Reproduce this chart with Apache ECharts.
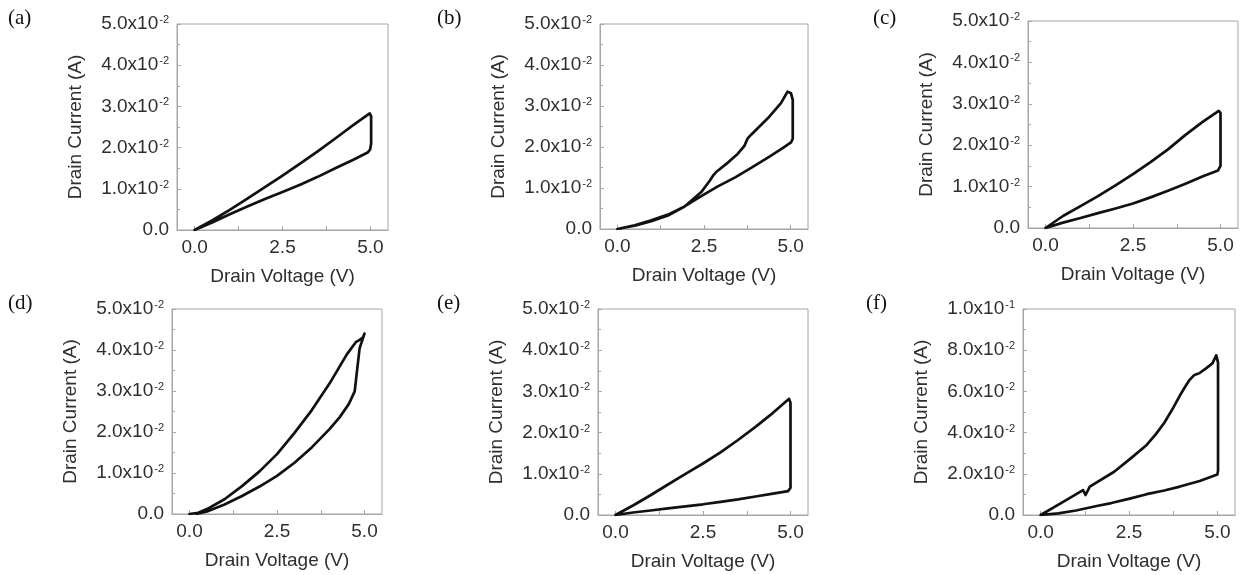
<!DOCTYPE html>
<html>
<head>
<meta charset="utf-8">
<script src="https://cdn.jsdelivr.net/npm/echarts@6/dist/echarts.min.js"></script>
<style>
html,body{margin:0;padding:0;background:#fff;}
#chart{width:1241px;height:575px;}
</style>
</head>
<body>
<div id="chart"></div>
<script>
// ---- data (Drain Voltage V, Drain Current A), traced along each hysteresis loop ----
const panelLabels = ['(a)', '(b)', '(c)', '(d)', '(e)', '(f)'];
const xTickLabels = [0, 2.5, 5];
const xTicks = [0, 1.25, 2.5, 3.75, 5];
const yMaxes = [0.05, 0.05, 0.05, 0.05, 0.05, 0.1];
const ySteps = [0.01, 0.01, 0.01, 0.01, 0.01, 0.02];

const aV = [0, 0.5, 1.0, 1.5, 2.0, 2.5, 3.0, 3.5, 4.0, 4.5, 4.92, 4.99, 5.02, 5.02, 4.98, 4.5, 4.0, 3.5, 3.0, 2.5, 2.0, 1.5, 1.0, 0.5, 0];
const aI = [0, 0.0018, 0.0038, 0.0057, 0.0075, 0.0092, 0.0110, 0.0129, 0.0150, 0.0170, 0.0188, 0.0195, 0.0210, 0.0276, 0.0283, 0.0254, 0.0222, 0.0191, 0.0161, 0.0132, 0.0104, 0.0076, 0.0049, 0.0023, 0];

const bV = [0, 0.5, 0.98, 1.46, 1.94, 2.42, 2.9, 3.4, 3.86, 4.4, 4.8, 5.01, 5.06, 5.06, 5.01, 4.91, 4.72, 4.34, 3.86, 3.76, 3.66, 3.47, 3.19, 2.85, 2.76, 2.66, 2.42, 1.94, 1.46, 0.98, 0.5, 0];
const bI = [0, 0.0009, 0.0021, 0.0035, 0.0055, 0.0080, 0.0104, 0.0126, 0.0149, 0.0177, 0.0199, 0.0211, 0.0220, 0.0315, 0.0331, 0.0335, 0.0307, 0.0270, 0.0230, 0.0221, 0.0202, 0.0183, 0.0162, 0.0139, 0.0130, 0.0117, 0.0090, 0.0055, 0.0033, 0.0019, 0.0008, 0];

const cV = [0, 0.5, 1.0, 1.5, 2.0, 2.5, 3.0, 3.5, 4.0, 4.5, 4.93, 5.0, 5.0, 4.95, 4.5, 4.0, 3.5, 3.0, 2.5, 2.0, 1.5, 1.0, 0.5, 0];
const cI = [0, 0.0013, 0.0024, 0.0036, 0.0047, 0.0059, 0.0074, 0.0090, 0.0107, 0.0125, 0.0139, 0.0150, 0.0278, 0.0283, 0.0257, 0.0225, 0.0190, 0.0159, 0.0130, 0.0103, 0.0077, 0.0053, 0.0029, 0];

const dV = [0.2, 0.5, 1.0, 1.5, 2.0, 2.5, 3.0, 3.5, 4.0, 4.3, 4.55, 4.72, 4.79, 4.86, 5.0, 4.95, 4.85, 4.75, 4.5, 4.0, 3.5, 3.0, 2.5, 2.0, 1.5, 1.0, 0.5, 0.25, 0];
const dI = [0, 0.0006, 0.0023, 0.0044, 0.0067, 0.0093, 0.0125, 0.0163, 0.0207, 0.0237, 0.0268, 0.0299, 0.0352, 0.0404, 0.0440, 0.0430, 0.0424, 0.0419, 0.0390, 0.0318, 0.0254, 0.0198, 0.0146, 0.0104, 0.0068, 0.0036, 0.0012, 0.0003, 0];

const eV = [0, 0.5, 1.0, 1.5, 2.0, 2.5, 3.0, 3.5, 4.0, 4.5, 4.93, 5.0, 5.0, 4.96, 4.5, 4.0, 3.5, 3.0, 2.5, 2.0, 1.5, 1.0, 0.5, 0];
const eI = [0, 0.0006, 0.0011, 0.0016, 0.0021, 0.0026, 0.0032, 0.0038, 0.0045, 0.0052, 0.0058, 0.0066, 0.0272, 0.0282, 0.0248, 0.0214, 0.0182, 0.0152, 0.0125, 0.0100, 0.0074, 0.0048, 0.0023, 0];

const fV = [0, 0.5, 1.0, 1.62, 2.0, 2.55, 3.0, 3.5, 3.94, 4.5, 5.0, 5.02, 5.02, 4.97, 4.86, 4.68, 4.49, 4.35, 4.21, 4.08, 3.94, 3.75, 3.5, 3.25, 3.0, 2.55, 2.08, 1.39, 1.27, 1.2, 0.6, 0];
const fI = [0, 0.0008, 0.0022, 0.0045, 0.0058, 0.0081, 0.0101, 0.0119, 0.0138, 0.0165, 0.0197, 0.0215, 0.0740, 0.0775, 0.0736, 0.0712, 0.0688, 0.0680, 0.0655, 0.0620, 0.0580, 0.0520, 0.0448, 0.0390, 0.0340, 0.0275, 0.0210, 0.0138, 0.0097, 0.0121, 0.0060, 0];

const loopsV = [aV, bV, cV, dV, eV, fV];
const loopsI = [aI, bI, cI, dI, eI, fI];

// ---- layout ----
const grids = [
  {left: 177, top: 24, width: 211, height: 206},
  {left: 600, top: 24, width: 208, height: 205},
  {left: 1028, top: 21, width: 210, height: 207},
  {left: 172, top: 309, width: 210, height: 205},
  {left: 598, top: 309, width: 210, height: 206},
  {left: 1023, top: 309, width: 212, height: 206}
];
const labelPos = [[8, 8], [437, 8], [873, 8], [8, 293], [437, 293], [866, 293]];

const FONT = '"Liberation Sans", Arial, sans-serif';
const TXT = '#2e2e2e';
const AX = '#a6a6a6';

function yFmt(v) {
  if (Math.abs(v) < 1e-12) return '0.0';
  const e = Math.floor(Math.log10(v) + 1e-9);
  const m = v / Math.pow(10, e);
  return '{m|' + m.toFixed(1) + 'x10}{e|' + e + '}';
}

const option = {
  animation: false,
  backgroundColor: '#fff',
  grid: grids.map(g => Object.assign({show: true, borderColor: AX, borderWidth: 1, containLabel: false}, g)),
  xAxis: grids.map((g, i) => ({
    type: 'value', gridIndex: i, min: -0.5, max: 5.5,
    name: 'Drain Voltage (V)', nameLocation: 'middle', nameGap: 37,
    nameTextStyle: {fontFamily: FONT, fontSize: 19, color: TXT},
    axisLine: {show: true, onZero: false, lineStyle: {color: AX, width: 1}},
    axisTick: {show: true, inside: true, length: 4, customValues: xTicks, lineStyle: {color: AX}},
    axisLabel: {show: true, customValues: xTickLabels, margin: 8, fontFamily: FONT, fontSize: 19, color: TXT,
      formatter: v => Number(v).toFixed(1)},
    splitLine: {show: false}
  })),
  yAxis: grids.map((g, i) => ({
    type: 'value', gridIndex: i, min: 0, max: yMaxes[i], interval: ySteps[i],
    name: 'Drain Current (A)', nameLocation: 'middle', nameGap: 92, nameRotate: 90,
    nameTextStyle: {fontFamily: FONT, fontSize: 19, color: TXT},
    axisLine: {show: true, onZero: false, lineStyle: {color: AX, width: 1}},
    axisTick: {show: true, inside: true, length: 4, lineStyle: {color: AX}},
    minorTick: {show: true, splitNumber: 2, length: 3, lineStyle: {color: AX}},
    axisLabel: {show: true, margin: 8, fontFamily: FONT, fontSize: 19, color: TXT,
      formatter: yFmt,
      rich: {
        m: {fontFamily: FONT, fontSize: 19, color: TXT},
        e: {fontFamily: FONT, fontSize: 11, color: TXT, verticalAlign: 'top', padding: [0, 0, 0, 1]}
      }},
    splitLine: {show: false}
  })),
  series: loopsV.map((vs, i) => ({
    type: 'line', xAxisIndex: i, yAxisIndex: i,
    data: vs.map((v, k) => [v, loopsI[i][k]]),
    showSymbol: false, symbol: 'none', smooth: false,
    lineStyle: {color: '#111', width: 2.7, join: 'round', cap: 'round'},
    silent: true
  })),
  graphic: panelLabels.map((t, i) => ({
    type: 'text', left: labelPos[i][0], top: labelPos[i][1],
    style: {text: t, font: '21px "Liberation Serif", "Times New Roman", serif', fill: '#111'}
  }))
};

const chart = echarts.init(document.getElementById('chart'), null, {renderer: 'canvas'});
chart.setOption(option);
</script>
</body>
</html>
